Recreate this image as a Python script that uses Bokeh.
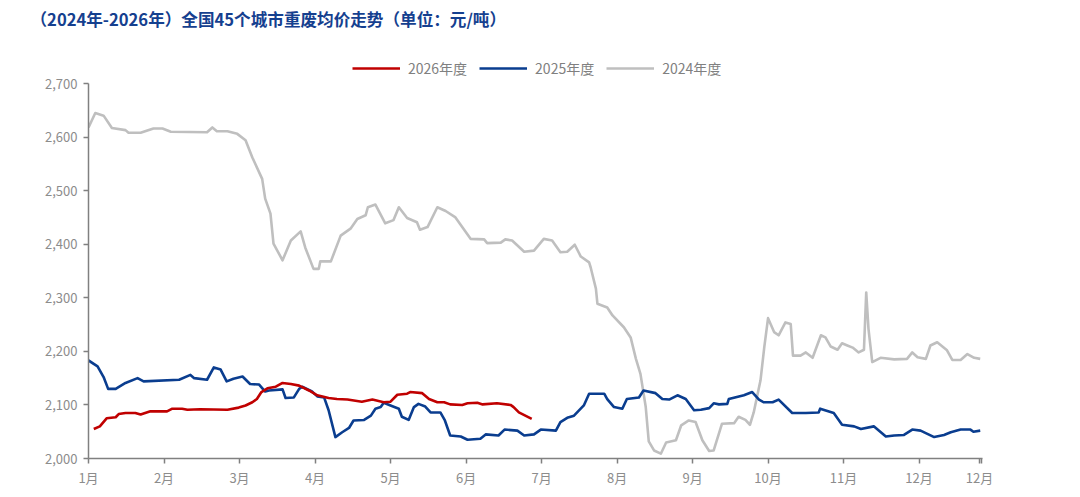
from bokeh.plotting import figure
from bokeh.models import (Range1d, FixedTicker, NumeralTickFormatter, Legend, LegendItem)
from bokeh.embed import file_html
from bokeh.resources import INLINE

# x = position in months (0 = start of January), y = price (元/吨)
month_ticks = [0, 1, 2, 3, 4, 5, 6, 7, 8, 9, 10, 11, 11.80, 11.83]
month_labels = ["1月", "2月", "3月", "4月", "5月", "6月", "7月", "8月", "9月", "10月", "11月", "12月", "12月", ""]
y_ticks = [2000, 2100, 2200, 2300, 2400, 2500, 2600, 2700]

x_2024 = [0.00, 0.09, 0.20, 0.31, 0.49, 0.53, 0.69, 0.86, 0.98, 1.09, 1.57, 1.64, 1.70, 1.84, 1.97,
          2.08, 2.17, 2.30, 2.34, 2.41, 2.45, 2.57, 2.68, 2.81, 2.87, 2.98, 3.05, 3.07, 3.21, 3.34,
          3.47, 3.56, 3.67, 3.70, 3.80, 3.93, 4.04, 4.11, 4.22, 4.35, 4.39, 4.49, 4.62, 4.73, 4.86,
          5.06, 5.24, 5.28, 5.46, 5.52, 5.61, 5.77, 5.90, 6.03, 6.14, 6.25, 6.34, 6.44, 6.52, 6.63,
          6.65, 6.72, 6.74, 6.87, 6.94, 7.09, 7.18, 7.25, 7.31, 7.38, 7.42, 7.49, 7.58, 7.65, 7.78,
          7.85, 7.95, 8.04, 8.13, 8.22, 8.28, 8.39, 8.55, 8.61, 8.70, 8.76, 8.81, 8.90, 8.95, 9.00,
          9.08, 9.14, 9.23, 9.30, 9.33, 9.43, 9.50, 9.59, 9.70, 9.76, 9.83, 9.92, 9.98, 10.05, 10.12,
          10.20, 10.27, 10.30, 10.33, 10.38, 10.49, 10.67, 10.84, 10.91, 10.98, 11.09, 11.15, 11.24,
          11.37, 11.44, 11.55, 11.64, 11.73, 11.81]
y_2024 = [2618, 2645, 2640, 2617, 2613, 2608, 2608, 2616, 2616, 2610, 2609, 2618, 2611, 2611, 2606,
          2594, 2562, 2522, 2485, 2457, 2401, 2370, 2407, 2424, 2394, 2354, 2354, 2368, 2368, 2416,
          2429, 2447, 2454, 2469, 2474, 2439, 2445, 2469, 2449, 2441, 2427, 2432, 2469, 2462, 2450,
          2410, 2409, 2402, 2403, 2409, 2407, 2386, 2388, 2410, 2407, 2385, 2386, 2399, 2377, 2366,
          2357, 2317, 2289, 2282, 2267, 2245, 2226, 2186, 2158, 2096, 2032, 2015, 2009, 2030, 2034,
          2062, 2071, 2068, 2034, 2014, 2015, 2065, 2066, 2078, 2072, 2063, 2086, 2146, 2208, 2262,
          2236, 2230, 2254, 2251, 2192, 2192, 2198, 2188, 2230, 2226, 2209, 2203, 2215, 2211, 2207,
          2198, 2203, 2310, 2242, 2180, 2188, 2185, 2186, 2198, 2189, 2186, 2211, 2217,
          2202, 2184, 2184, 2195, 2188, 2186]

x_2025 = [0.00, 0.12, 0.20, 0.26, 0.36, 0.49, 0.65, 0.73, 1.20, 1.35, 1.40, 1.57, 1.66, 1.75, 1.83,
          1.92, 2.04, 2.14, 2.26, 2.34, 2.39, 2.57, 2.61, 2.72, 2.79, 2.83, 2.96, 3.03, 3.12, 3.18,
          3.27, 3.36, 3.45, 3.51, 3.65, 3.74, 3.80, 3.87, 3.91, 4.00, 4.11, 4.15, 4.24, 4.31, 4.37,
          4.46, 4.53, 4.66, 4.72, 4.79, 4.93, 5.02, 5.19, 5.26, 5.43, 5.51, 5.68, 5.77, 5.90, 5.99,
          6.19, 6.25, 6.34, 6.43, 6.56, 6.63, 6.83, 6.87, 6.96, 7.07, 7.13, 7.29, 7.35, 7.51, 7.60,
          7.69, 7.80, 7.91, 8.02, 8.11, 8.22, 8.28, 8.35, 8.46, 8.48, 8.68, 8.79, 8.88, 8.94, 9.06,
          9.14, 9.32, 9.50, 9.67, 9.69, 9.87, 9.98, 10.14, 10.23, 10.40, 10.56, 10.67, 10.80, 10.91,
          11.02, 11.20, 11.33, 11.42, 11.55, 11.68, 11.72, 11.81]
y_2025 = [2183, 2172, 2152, 2130, 2130, 2141, 2150, 2144, 2147, 2156, 2150, 2147, 2170, 2166, 2144,
          2149, 2153, 2139, 2138, 2125, 2127, 2129, 2113, 2114, 2130, 2134, 2125, 2116, 2114, 2090,
          2040, 2049, 2057, 2071, 2072, 2080, 2093, 2096, 2104, 2099, 2093, 2078, 2072, 2096, 2102,
          2097, 2086, 2086, 2071, 2043, 2041, 2035, 2037, 2045, 2043, 2054, 2052, 2043, 2045, 2054,
          2052, 2068, 2076, 2080, 2099, 2121, 2121, 2111, 2096, 2093, 2111, 2114, 2127, 2122, 2111,
          2110, 2118, 2111, 2090, 2091, 2094, 2103, 2101, 2102, 2111, 2118, 2124, 2110, 2105, 2105,
          2110, 2085, 2085, 2086, 2093, 2085, 2063, 2060, 2055, 2060, 2041, 2043, 2044, 2054,
          2052, 2040, 2044, 2049, 2054, 2054, 2050, 2052]

x_2026 = [0.07, 0.15, 0.24, 0.36, 0.40, 0.49, 0.62, 0.69, 0.82, 1.04, 1.11, 1.24, 1.31, 1.48, 1.84,
          1.99, 2.08, 2.17, 2.23, 2.29, 2.37, 2.48, 2.57, 2.68, 2.79, 2.92, 3.03, 3.18, 3.29, 3.43,
          3.62, 3.76, 3.91, 4.00, 4.09, 4.22, 4.26, 4.42, 4.51, 4.62, 4.71, 4.79, 4.95, 5.02, 5.15,
          5.22, 5.41, 5.59, 5.63, 5.70, 5.87]
y_2026 = [2055, 2060, 2075, 2077, 2083, 2085, 2085, 2082, 2088, 2088, 2093, 2093, 2091, 2092, 2091,
          2095, 2099, 2105, 2111, 2124, 2131, 2134, 2141, 2139, 2136, 2127, 2118, 2113, 2111, 2110,
          2106, 2110, 2105, 2106, 2119, 2121, 2124, 2122, 2111, 2105, 2105, 2101, 2100, 2103, 2104,
          2101, 2103, 2100, 2096, 2086, 2074]

series_names = ["2026年度", "2025年度", "2024年度"]
series_colors = ["#C00000", "#0A3D8F", "#BFBFBF"]

# frame spans 458-31 = 427 px; 2700 sits 375 px above the bottom
y_top = 2000 + 700 * 427 / 375
p = figure(width=1080, height=497, output_backend="svg", toolbar_location=None,
           x_range=Range1d(0, 11.84), y_range=Range1d(2000, y_top),
           title="（2024年-2026年）全国45个城市重废均价走势（单位：元/吨）")
p.min_border_left = 88
p.min_border_right = 98
p.min_border_top = 31
p.min_border_bottom = 39
p.outline_line_color = None
p.xgrid.visible = False
p.ygrid.visible = False

p.title.text_font = "Noto Sans CJK SC"
p.title.text_font_size = "16.6px"
p.title.text_font_style = "bold"
p.title.text_color = "#15408F"
p.title.align = "left"
p.title.vertical_align = "middle"
p.title.offset = -58
p.title.standoff = 0

r24 = p.line(x_2024, y_2024, line_color=series_colors[2], line_width=2.6, line_join="round")
r25 = p.line(x_2025, y_2025, line_color=series_colors[1], line_width=2.6, line_join="round")
r26 = p.line(x_2026, y_2026, line_color=series_colors[0], line_width=2.6, line_join="round")

legend = Legend(items=[LegendItem(label=series_names[0], renderers=[r26]),
                       LegendItem(label=series_names[1], renderers=[r25]),
                       LegendItem(label=series_names[2], renderers=[r24])],
                orientation="horizontal", location=(264, 380),
                label_text_font="Noto Sans CJK SC", label_text_font_size="14px",
                label_text_color="#808080", glyph_width=48, glyph_height=16,
                label_standoff=8, spacing=12, padding=4, margin=0,
                border_line_color=None, background_fill_alpha=0)
p.add_layout(legend, "center")

ax_col = "#808080"
for ax in (p.xaxis[0], p.yaxis[0]):
    ax.axis_line_color = ax_col
    ax.axis_line_width = 1.5
    ax.major_tick_line_color = ax_col
    ax.major_tick_line_width = 1.5
    ax.major_tick_out = 5
    ax.major_tick_in = 0
    ax.minor_tick_line_color = None
    ax.major_label_text_font = "Noto Sans CJK SC"
    ax.major_label_text_font_size = "13px"
    ax.major_label_text_color = "#8C8C8C"

p.yaxis[0].ticker = FixedTicker(ticks=y_ticks)
p.yaxis[0].bounds = (y_ticks[0], y_ticks[-1])
p.yaxis[0].formatter = NumeralTickFormatter(format="0,0")
p.yaxis[0].major_label_standoff = 6

p.xaxis[0].ticker = FixedTicker(ticks=month_ticks)
p.xaxis[0].major_label_overrides = {t: lab for t, lab in zip(month_ticks, month_labels)}
p.xaxis[0].major_label_standoff = 4

open("out.html", "w").write(file_html(p, INLINE))
